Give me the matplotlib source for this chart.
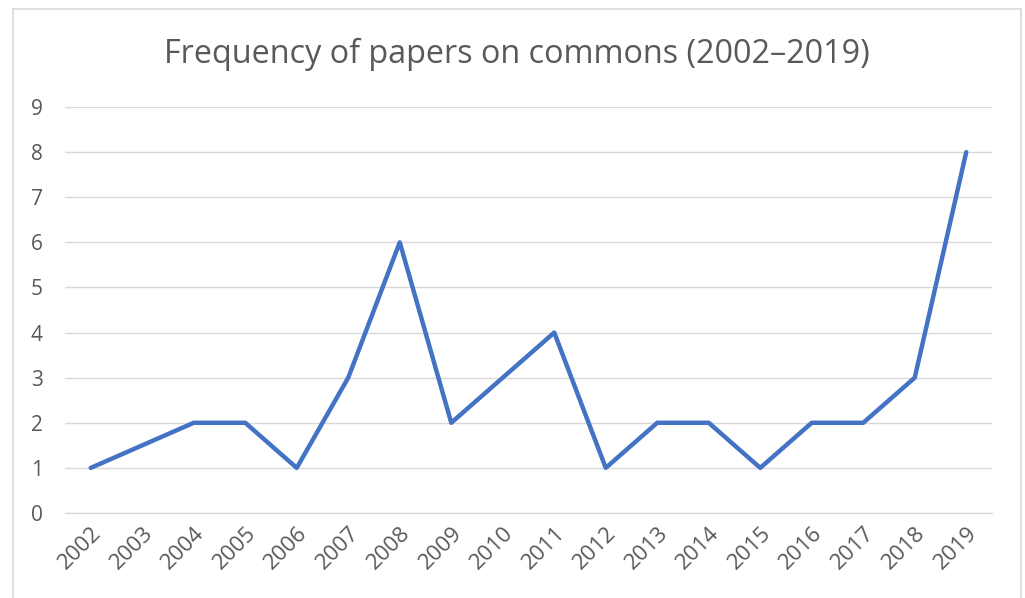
import matplotlib
matplotlib.use("Agg")
import matplotlib.pyplot as plt
from matplotlib.lines import Line2D

years = ["2002", "2003", "2004", "2005", "2006", "2007", "2008", "2009", "2010",
         "2011", "2012", "2013", "2014", "2015", "2016", "2017", "2018", "2019"]
papers = [1, 1.5, 2, 2, 1, 3, 6, 2, 3, 4, 1, 2, 2, 1, 2, 2, 3, 8]
yticks = list(range(0, 10))

plt.rcParams['font.family'] = ['Open Sans', 'DejaVu Sans']
text_col = "#595959"

fig = plt.figure(figsize=(10.25, 5.98), dpi=100)
ax = fig.add_axes([65 / 1025, 1 - 513 / 598, 927 / 1025, 406 / 598])

ax.plot(range(len(years)), papers, color="#4472C4", linewidth=3.2,
        solid_joinstyle="round", solid_capstyle="round", zorder=3)

ax.set_xlim(-0.5, len(years) - 0.5)
ax.set_ylim(0, 9)
ax.set_yticks(yticks)
ax.set_xticks(range(len(years)))
ax.set_xticklabels(years, rotation=45, ha="right", rotation_mode="anchor")
ax.tick_params(axis="both", length=0, labelsize=15, labelcolor=text_col)
ax.tick_params(axis="x", labelsize=16, pad=7)
ax.tick_params(axis="y", pad=16)
ax.grid(axis="y", color="#D9D9D9", linewidth=1.0)
for s in ["top", "right", "left"]:
    ax.spines[s].set_visible(False)
ax.spines["bottom"].set_color("#D9D9D9")
ax.spines["bottom"].set_linewidth(1.0)

fig.text(517 / 1025, 1 - 54 / 598, "Frequency of papers on commons (2002\u20132019)",
         ha="center", va="center", fontsize=23.3, color=text_col)

# outer chart frame
bc = "#D9D9D9"
x0, x1, y0 = 12.5 / 1025, 1020.5 / 1025, 1 - 8.5 / 598
fig.add_artist(Line2D([x0, x1], [y0, y0], color=bc, linewidth=1.2, transform=fig.transFigure))
fig.add_artist(Line2D([x0, x0], [y0, 0], color=bc, linewidth=1.2, transform=fig.transFigure))
fig.add_artist(Line2D([x1, x1], [y0, 0], color=bc, linewidth=1.2, transform=fig.transFigure))

fig.savefig("out.png", dpi=100)
